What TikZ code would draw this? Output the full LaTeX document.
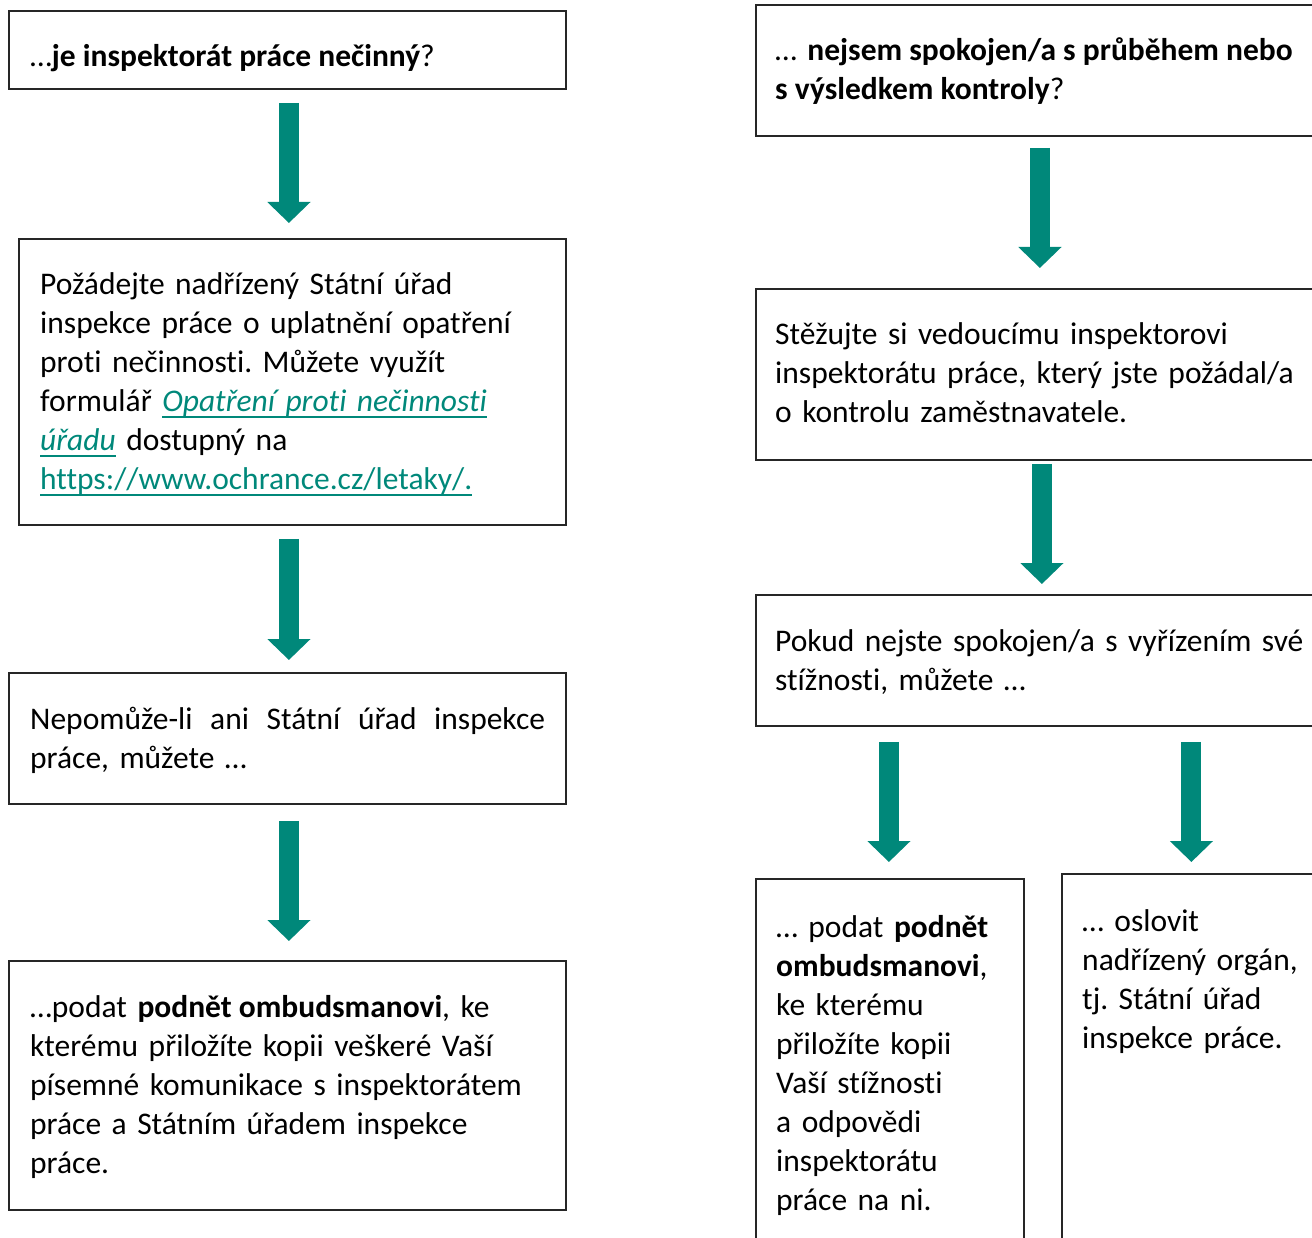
\documentclass[tikz,border=0pt]{standalone}
\usepackage{fontspec}
\setmainfont{Carlito}[Ligatures=NoCommon]
\usetikzlibrary{arrows.meta,calc}
\definecolor{ombteal}{RGB}{0,136,122}
\newcommand{\lnk}[1]{\textcolor{ombteal}{\setbox0\hbox{#1}\rlap{\rule[-6pt]{\wd0}{2pt}}\box0}}
\newcommand{\bt}[1]{{\bfseries\spaceskip=0.226em\relax #1}}
\frenchspacing
\begin{document}
\begin{tikzpicture}[x=1pt,y=-1pt,
  boxframe/.style={draw=black!85, line width=1.8pt, anchor=north west, inner sep=0pt},
  boxtext/.style={anchor=base west, inner sep=0pt, align=left, text width=#1,
    font=\fontsize{31.5}{39}\selectfont},
  flow/.style={draw=ombteal, line width=20pt, -{Triangle[width=42pt,length=21pt]}}]
\useasboundingbox (0,0) rectangle (1312,1238);
\clip (0,0) rectangle (1312,1238);
% left column
\node[boxframe, minimum width=557pt, minimum height=78pt] (L1) at (8,10) {};
\node[boxframe, minimum width=547pt, minimum height=286pt] (L2) at (18,238) {};
\node[boxframe, minimum width=557pt, minimum height=131pt] (L3) at (8,672) {};
\node[boxframe, minimum width=557pt, minimum height=249pt] (L4) at (8,960) {};
\node[boxtext=515pt] (L1t) at ($(L1.north west)+(22,57)$) {…\bt{je inspektorát práce nečinný}?};
\node[boxtext=505pt] (L2t) at ($(L2.north west)+(22,57)$) {Požádejte nadřízený Státní úřad\\
inspekce práce o uplatnění opatření\\
proti nečinnosti. Můžete využít\\
formulář \lnk{\textit{Opatření proti nečinnosti}}\\
\lnk{\textit{úřadu}} dostupný na\\
\lnk{https://www.ochrance.cz/letaky/.}};
\node[boxtext=515pt] (L3t) at ($(L3.north west)+(22,57)$) {\hbox to 515pt{Nepomůže-li\hfill ani\hfill Státní\hfill úřad\hfill inspekce}\\
práce, můžete …};
\node[boxtext=515pt] (L4t) at ($(L4.north west)+(22,57)$) {…podat \bt{podnět ombudsmanovi}, ke\\
kterému přiložíte kopii veškeré Vaší\\
písemné komunikace s inspektorátem\\
práce a Státním úřadem inspekce\\
práce.};
% right column
\node[boxframe, minimum width=575pt, minimum height=131pt] (R1) at (755,4) {};
\node[boxframe, minimum width=575pt, minimum height=171pt] (R2) at (755,288) {};
\node[boxframe, minimum width=575pt, minimum height=131pt] (R3) at (755,594) {};
\node[boxframe, minimum width=268pt, minimum height=420pt] (R4a) at (755,878) {};
\node[boxframe, minimum width=269pt, minimum height=420pt] (R4b) at (1061,873) {};
\node[boxtext=560pt] (R1t) at ($(R1.north west)+(20,57)$) {… \bt{nejsem spokojen/a s průběhem nebo}\\
\bt{s výsledkem kontroly}?};
\node[boxtext=560pt] (R2t) at ($(R2.north west)+(20,57)$) {Stěžujte si vedoucímu inspektorovi\\
inspektorátu práce, který jste požádal/a\\
o kontrolu zaměstnavatele.};
\node[boxtext=560pt] (R3t) at ($(R3.north west)+(20,57)$) {Pokud nejste spokojen/a s vyřízením své\\
stížnosti, můžete …};
\node[boxtext=260pt] (R4at) at ($(R4a.north west)+(21,59)$) {… podat \bt{podnět}\\
\bt{ombudsmanovi},\\
ke kterému\\
přiložíte kopii\\
Vaší stížnosti\\
a odpovědi\\
inspektorátu\\
práce na ni.};
\node[boxtext=260pt] (R4bt) at ($(R4b.north west)+(21,58)$) {… oslovit\\
nadřízený orgán,\\
tj. Státní úřad\\
inspekce práce.};
% arrows
\draw[flow] ($(L1.south)+(1.5,13)$) -- ($(L2.north)+(-3.5,-15)$);
\draw[flow] ($(L2.south)+(-3.5,13)$) -- ($(L3.north)+(1.5,-12)$);
\draw[flow] ($(L3.south)+(1.5,16)$) -- ($(L4.north)+(1.5,-19)$);
\draw[flow] ($(R1.south)+(-3.5,11)$) -- ($(R2.north)+(-3.5,-20)$);
\draw[flow] ($(R2.south)+(-1.5,3)$) -- ($(R3.north)+(-1.5,-10)$);
\draw[flow] ($(R4a.north |- R3.south)+(-1,15)$) -- ($(R4a.north)+(-1,-16)$);
\draw[flow] ($(R4b.north |- R3.south)+(-5,15)$) -- ($(R4b.north)+(-5,-11)$);
\end{tikzpicture}
\end{document}
